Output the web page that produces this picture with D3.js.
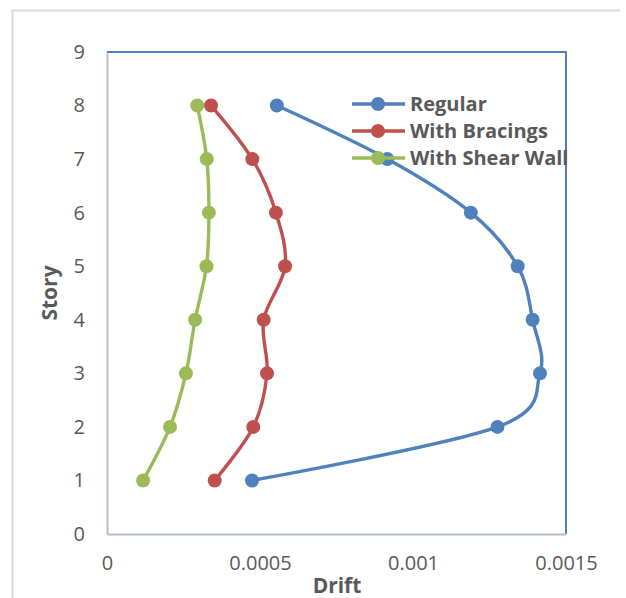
<!DOCTYPE html>
<html>
<head>
<meta charset="utf-8">
<script src="https://cdn.jsdelivr.net/npm/d3@7"></script>
<style>
  html, body { margin: 0; padding: 0; background: #fff; }
  svg { display: block; }
</style>
</head>
<body>
<svg id="chart" width="626" height="598"></svg>
<script>
// Story numbers (y) and storey drift for each structural system (x)
const stories = [1, 2, 3, 4, 5, 6, 7, 8];
const regular = [0.000474, 0.001276, 0.001415, 0.001391, 0.001342, 0.001189, 0.000916, 0.000555];
const withBracings = [0.000352, 0.000478, 0.000523, 0.000512, 0.000582, 0.000552, 0.000475, 0.000340];
const withShearWall = [0.000118, 0.000206, 0.000258, 0.000288, 0.000325, 0.000333, 0.000326, 0.000295];
const seriesNames = ["Regular", "With Bracings", "With Shear Wall"];
const xTicks = [0, 0.0005, 0.001, 0.0015];
const yTicks = [0, 1, 2, 3, 4, 5, 6, 7, 8, 9];

const colors = ["#4f81bd", "#c0504d", "#9bbb59"];
const series = [regular, withBracings, withShearWall].map((vals, i) => ({
  name: seriesNames[i],
  color: colors[i],
  points: vals.map((v, j) => ({ x: v, y: stories[j] }))
}));

const svg = d3.select("#chart");
const font = "'Open Sans', 'Liberation Sans', sans-serif";
const textColor = "#595959";

const plot = { left: 107, right: 566, top: 52, bottom: 534 };
const x = d3.scaleLinear().domain([0, 0.0015]).range([plot.left, plot.right]);
const y = d3.scaleLinear().domain([0, 9]).range([plot.bottom, plot.top]);

// outer chart frame (top and left edges)
svg.append("path")
  .attr("d", "M12.5,598 V10.5 H620")
  .attr("fill", "none")
  .attr("stroke", "#d9d9d9")
  .attr("stroke-width", 2);

// plot area border: blue edges on top/right
svg.append("path")
  .attr("d", `M${plot.left},${plot.top} H${plot.right} V${plot.bottom}`)
  .attr("fill", "none")
  .attr("stroke", "#4f81bd")
  .attr("stroke-width", 2);

// axes: labels plus grey axis lines on left/bottom
const xAxis = svg.append("g")
  .attr("transform", `translate(0,${plot.bottom})`)
  .call(d3.axisBottom(x).tickValues(xTicks).tickSize(0).tickPadding(22)
    .tickFormat(d => d === 0 ? "0" : String(+d.toFixed(4))));
xAxis.select(".domain").attr("stroke", "#b3bccb").attr("stroke-width", 2);

const yAxis = svg.append("g")
  .attr("transform", `translate(${plot.left},0)`)
  .call(d3.axisLeft(y).tickValues(yTicks).tickSize(0).tickPadding(22).tickFormat(d3.format("d")));
yAxis.select(".domain").attr("stroke", "#b3bccb").attr("stroke-width", 2);

svg.selectAll(".tick text")
  .attr("font-family", font)
  .attr("font-size", 20)
  .attr("fill", textColor);

// axis titles
svg.append("text")
  .attr("x", 337).attr("y", 593)
  .attr("text-anchor", "middle")
  .attr("font-family", font).attr("font-size", 21).attr("font-weight", "bold")
  .attr("fill", textColor)
  .text("Drift");

svg.append("text")
  .attr("transform", "translate(57,293) rotate(-90)")
  .attr("text-anchor", "middle")
  .attr("font-family", font).attr("font-size", 21).attr("font-weight", "bold")
  .attr("fill", textColor)
  .text("Story");

// smoothed series lines with circle markers
const line = d3.line()
  .x(d => x(d.x))
  .y(d => y(d.y))
  .curve(d3.curveCatmullRom.alpha(0));

const g = svg.append("g");
series.forEach(s => {
  g.append("path")
    .datum(s.points)
    .attr("d", line)
    .attr("fill", "none")
    .attr("stroke", s.color)
    .attr("stroke-width", 3.4)
    .attr("stroke-linejoin", "round");
  g.selectAll(null)
    .data(s.points)
    .join("circle")
    .attr("cx", d => x(d.x))
    .attr("cy", d => y(d.y))
    .attr("r", 7)
    .attr("fill", s.color);
});

// legend
const legend = svg.append("g");
series.forEach((s, i) => {
  const ly = 104 + i * 27;
  legend.append("line")
    .attr("x1", 352).attr("x2", 405)
    .attr("y1", ly).attr("y2", ly)
    .attr("stroke", s.color).attr("stroke-width", 3.4);
  legend.append("circle")
    .attr("cx", 378).attr("cy", ly).attr("r", 7)
    .attr("fill", s.color);
  legend.append("text")
    .attr("x", 410).attr("y", ly)
    .attr("dy", "0.36em")
    .attr("font-family", font).attr("font-size", 20).attr("font-weight", "bold")
    .attr("fill", textColor)
    .text(s.name);
});
</script>
</body>
</html>
